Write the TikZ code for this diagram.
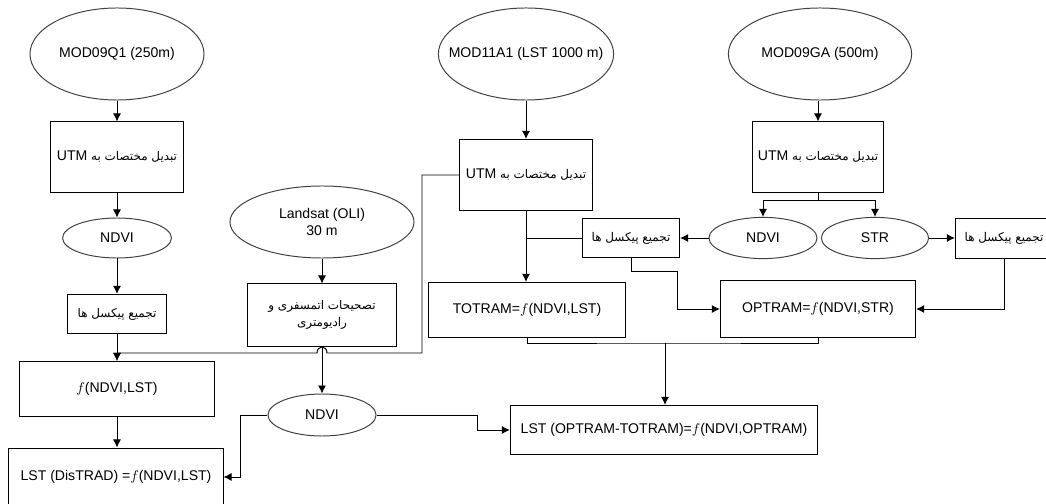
\documentclass[tikz,border=0pt]{standalone}
\usepackage{fontspec}
\setmainfont{Liberation Sans}
\newfontfamily\farsi[Script=Arabic]{DejaVu Sans}
\TeXXeTstate=1
\usetikzlibrary{shapes.geometric,arrows.meta}
\newcommand{\fa}[1]{{\farsi\fontsize{8.5}{11}\selectfont\beginR #1\endR}}
\newcommand{\utm}{\beginL{\rmfamily\fontsize{10}{12}\selectfont UTM}\endL}
\begin{document}
\begin{tikzpicture}[x=0.025cm, y=-0.025cm, line width=0.7pt,
  >={Latex[length=2mm,width=2mm]},
  box/.style = {shape=rectangle, draw, align=center, inner sep=2pt},
  oval/.style = {shape=ellipse, draw=black!75, inner sep=0pt},
  arr/.style = {->}]
  \useasboundingbox (0,0) rectangle (1046,504);
  % first column
  \node[oval, minimum width=4.35cm, minimum height=2.3cm,
    label=center:{MOD09Q1 (250m)}] (m9q) at (117,54) {};
  \node[box, minimum width=3.3cm, minimum height=1.75cm] (utmA) at (117,157)
    {\fa{تبدیل مختصات به \utm}};
  \node[oval, minimum width=2.72cm, minimum height=1cm,
    label=center:NDVI] (ndviA) at (117,238) {};
  \node[box, minimum width=2.45cm, minimum height=0.98cm] (sumA) at (117,314)
    {\fa{تجمیع پیکسل ها}};
  \node[box, minimum width=4.85cm, minimum height=1.38cm] (fA) at (117,389)
    {$f$(NDVI,LST)};
  \node[box, minimum width=5.35cm, minimum height=1.45cm] (dis) at (116,477)
    {LST (DisTRAD) =$f$(NDVI,LST)};
  % landsat
  \node[oval, minimum width=4.6cm, minimum height=1.8cm,
    label={[align=center]center:Landsat (OLI)\\30 m}] (lsat) at (322,222) {};
  \node[box, minimum width=3.7cm, minimum height=1.55cm] (corr) at (322,315)
    {\fa{تصحیحات اتمسفری و}\\\fa{رادیومتری}};
  \node[oval, minimum width=2.7cm, minimum height=1.05cm,
    label=center:NDVI] (ndviB) at (322,415) {};
  % LST column
  \node[oval, minimum width=4.38cm, minimum height=2.3cm,
    label=center:{MOD11A1 (LST 1000 m)}] (m11) at (526,54) {};
  \node[box, minimum width=3.3cm, minimum height=1.78cm] (utmB) at (526,175)
    {\fa{تبدیل مختصات به \utm}};
  \node[box, minimum width=4.9cm, minimum height=1.38cm] (totram) at (527,310)
    {TOTRAM=$f$(NDVI,LST)};
  % reflectance column
  \node[oval, minimum width=4.58cm, minimum height=2.3cm,
    label=center:{MOD09GA (500m)}] (m9ga) at (820,54) {};
  \node[box, minimum width=3.28cm, minimum height=1.75cm] (utmC) at (818,157)
    {\fa{تبدیل مختصات به \utm}};
  \node[oval, minimum width=2.7cm, minimum height=1.03cm,
    label=center:NDVI] (ndviC) at (763,238) {};
  \node[oval, minimum width=2.68cm, minimum height=1.03cm,
    label=center:STR] (str) at (875,238) {};
  \node[box, minimum width=2.43cm, minimum height=0.98cm] (sumB) at (631,238)
    {\fa{تجمیع پیکسل ها}};
  \node[box, minimum width=2.43cm, minimum height=1cm] (sumC) at (1004,238)
    {\fa{تجمیع پیکسل ها}};
  \node[box, minimum width=4.88cm, minimum height=1.4cm] (optram) at (818,309)
    {OPTRAM=$f$(NDVI,STR)};
  \node[box, minimum width=7.68cm, minimum height=1.23cm] (lstop) at (664,430)
    {LST (OPTRAM-TOTRAM)=$f$(NDVI,OPTRAM)};
  % bends
  \coordinate (jB) at (422,353);
  \coordinate (hopR) at (327,353);
  \coordinate (hopL) at (317,353);
  \coordinate (kA) at (240,415);
  \coordinate (kB) at (477,415);
  \coordinate (kC) at (677,271);
  \coordinate (mrg) at (665,343);
  % connectors
  \draw[arr] (m9q) -- (utmA);
  \draw[arr] (utmA) -- (ndviA);
  \draw[arr] (ndviA) -- (sumA);
  \draw[arr] (sumA) -- (fA);
  \draw[arr] (fA.south) -- (fA.south |- dis.north);
  \draw[arr] (utmB.west) -| (jB) -- (hopR)
    .. controls (327,345) and (317,345) .. (hopL) -- (fA.north |- jB) -- (fA.north);
  \draw[arr] (lsat) -- (corr);
  \draw[arr] (corr) -- (ndviB);
  \draw[arr] (ndviB.west) -- (kA) |- (dis.east);
  \draw[arr] (ndviB.east) -- (kB) |- (lstop.west);
  \draw[arr] (m11) -- (utmB);
  \draw[arr] (utmB.south) -- (utmB.south |- totram.north);
  \draw (sumB.west) -- (utmB.south |- sumB.west);
  \draw[arr] (utmC.north |- m9ga.south) -- (utmC.north);
  \draw[arr] (utmC.south) -- ++(0,8) -| (ndviC.north);
  \draw[arr] (utmC.south) -- ++(0,8) -| (str.north);
  \draw[arr] (ndviC) -- (sumB);
  \draw[arr] (str) -- (sumC);
  \draw[arr] (sumB.south) |- (kC) |- (optram.west);
  \draw[arr] (sumC.south) |- (optram.east);
  \draw (totram.south) |- (mrg) -| (optram.south);
  \draw[arr] (mrg) -- (mrg |- lstop.north);
\end{tikzpicture}
\end{document}
